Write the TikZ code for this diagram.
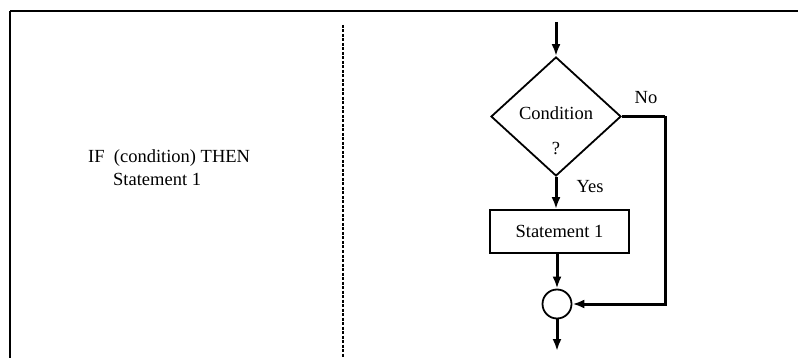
\documentclass[tikz,border=0pt]{standalone}
\usepackage{fontspec}
\setmainfont{Liberation Serif}
\usetikzlibrary{shapes.geometric,arrows.meta}
\begin{document}
\begin{tikzpicture}[x=1pt,y=-1pt,
  txt/.style={font=\fontsize{18.5}{22}\selectfont, inner sep=0pt},
  flow/.style={line width=3pt, -{Latex[length=12pt,width=9pt]}},
  plain/.style={line width=3.2pt},
  decision/.style={draw, line width=1.8pt, shape=diamond, inner sep=0pt,
    minimum width=130pt, minimum height=119pt},
  process/.style={draw, line width=1.8pt, rectangle, inner sep=0pt,
    minimum width=139pt, minimum height=43pt, font=\fontsize{18.5}{22}\selectfont},
  junction/.style={draw, line width=1.8pt, circle, inner sep=0pt, minimum size=29pt}]
  \useasboundingbox (0,0) rectangle (798,358);

  % frame: top rule and left edge
  \draw[line width=2.4pt] (10,11) -- (798,11);
  \draw[line width=1.8pt] (10,11) -- (10,358);
  % column separator
  \draw[line width=1.8pt, dash pattern=on 3pt off 1.5pt] (343,25) -- (343,358);

  % pseudo-code
  \node[txt, anchor=base west] (ifline) at (88,163) {IF\ \ (condition) THEN};
  \node[txt, anchor=base west] (stline) at (113,186) {Statement 1};

  % flowchart
  \coordinate (entry) at (556,22);
  \node[decision] (cond) at (556,116.5) {};
  \node[txt] (condtext) at (556,113) {Condition};
  \node[txt] (qmark) at (556,149) {?};
  \node[process] (stmt) at (559.5,231.5) {Statement 1};
  \node[junction] (join) at (557,304) {};
  \coordinate (exit) at (557,351);
  \coordinate (noturn) at (665,116.5);

  \draw[flow] (entry) -- (cond.north);
  \draw[flow] (cond.south) -- (cond.south |- stmt.north);
  \draw[flow] (stmt.south -| join) -- (join.north);
  \draw[flow] (join.south) -- (exit);
  \draw[plain] (cond.east) -- (noturn);
  \draw[flow] (noturn) |- (join.east);

  \node[txt] (yes) at (590,187) {Yes};
  \node[txt] (no) at (646,98) {No};
\end{tikzpicture}
\end{document}
